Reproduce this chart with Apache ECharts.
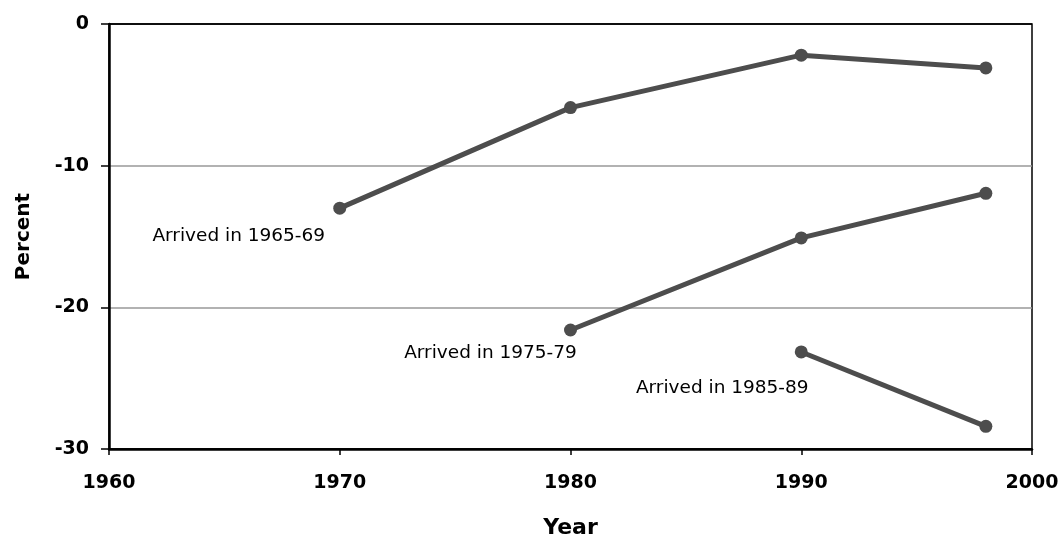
<!DOCTYPE html>
<html>
<head>
<meta charset="utf-8">
<script src="https://cdn.jsdelivr.net/npm/echarts@6/dist/echarts.min.js"></script>
<style>
html,body{margin:0;padding:0;background:#fff;}
#c{width:1060px;height:537px;}
</style>
</head>
<body>
<div id="c"></div>
<script>
// Data
const cohortNames = ['Arrived in 1965-69', 'Arrived in 1975-79', 'Arrived in 1985-89'];
const years1 = [1970, 1980, 1990, 1998];
const values1 = [-13.0, -5.9, -2.2, -3.1];
const years2 = [1980, 1990, 1998];
const values2 = [-21.6, -15.1, -11.95];
const years3 = [1990, 1998];
const values3 = [-23.15, -28.4];
const labelOffsets = [[-101, 28], [-80, 23], [-79, 36]];

const xTicks = [1960, 1970, 1980, 1990, 2000];
const yTicks = [-30, -20, -10, 0];

const LINE = '#4d4d4d';

function build(years, vals, idx) {
  return years.map((y, i) => {
    const item = { value: [y, vals[i]] };
    if (i === 0) {
      item.label = {
        show: true,
        formatter: cohortNames[idx],
        position: 'inside',
        offset: labelOffsets[idx],
        align: 'center',
        verticalAlign: 'middle',
        color: '#000',
        fontFamily: 'DejaVu Sans',
        fontSize: 18.5
      };
    }
    return item;
  });
}

const chart = echarts.init(document.getElementById('c'), null, { renderer: 'canvas' });
const seriesData = [build(years1, values1, 0), build(years2, values2, 1), build(years3, values3, 2)];

chart.setOption({
  animation: false,
  backgroundColor: '#fff',
  grid: { left: 109, right: 28, top: 24, bottom: 88, outerBoundsMode: 'none', containLabel: false, show: true, borderColor: '#000', borderWidth: 1.5, backgroundColor: 'transparent' },
  xAxis: {
    type: 'value',
    min: xTicks[0], max: xTicks[xTicks.length - 1], interval: 10,
    name: 'Year', nameLocation: 'middle', nameGap: 68,
    nameTextStyle: { fontFamily: 'DejaVu Sans', fontWeight: 'bold', fontSize: 22, color: '#000' },
    axisLine: { show: true, onZero: false, lineStyle: { color: '#000', width: 2.5 } },
    axisTick: { show: true, length: 6, lineStyle: { color: '#000', width: 1.5 } },
    axisLabel: { margin: 25, fontFamily: 'DejaVu Sans', fontWeight: 'bold', fontSize: 19, color: '#000', formatter: v => String(v) },
    splitLine: { show: false }
  },
  yAxis: {
    type: 'value',
    min: yTicks[0], max: yTicks[yTicks.length - 1], interval: 10,
    name: 'Percent', nameLocation: 'middle', nameGap: 75, nameRotate: 90,
    nameTextStyle: { fontFamily: 'DejaVu Sans', fontWeight: 'bold', fontSize: 20, color: '#000' },
    axisLine: { show: true, onZero: false, lineStyle: { color: '#000', width: 2.5 } },
    axisTick: { show: true, length: 8, lineStyle: { color: '#000', width: 1.5 } },
    axisLabel: { margin: 20, fontFamily: 'DejaVu Sans', fontWeight: 'bold', fontSize: 19, color: '#000' },
    splitLine: { show: true, lineStyle: { color: ['#000', '#999', '#999', '#000'], width: 1.5 } }
  },
  series: seriesData.map((d, i) => ({
    type: 'line',
    name: cohortNames[i],
    data: d,
    symbol: 'circle',
    symbolSize: 13,
    showAllSymbol: true,
    lineStyle: { color: LINE, width: 5 },
    itemStyle: { color: LINE },
    emphasis: { disabled: true },
    z: 3
  }))
});
</script>
</body>
</html>
